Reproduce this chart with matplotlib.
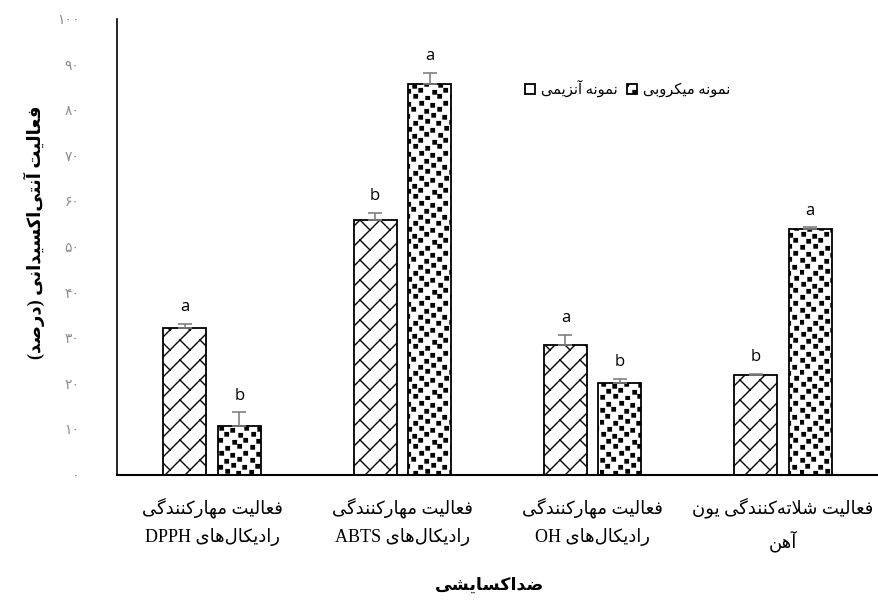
import warnings
import numpy as np
import matplotlib
matplotlib.use('Agg')
import matplotlib.pyplot as plt
import matplotlib.hatch as mhatch
from matplotlib.patches import Patch
from matplotlib.path import Path

warnings.filterwarnings('ignore')

# ---- data -------------------------------------------------------------
categories = [
    'فعالیت مهارکنندگی\nرادیکال‌های DPPH',
    'فعالیت مهارکنندگی\nرادیکال‌های ABTS',
    'فعالیت مهارکنندگی\nرادیکال‌های OH',
    'فعالیت شلاته‌کنندگی یون\nآهن',
]
series_names = ['نمونه آنزیمی', 'نمونه میکروبی']
enzyme = [32.2, 56.0, 28.4, 21.9]
enzyme_err = [1.0, 1.5, 2.4, 0.3]
microbial = [10.7, 85.8, 20.1, 54.0]
microbial_err = [3.1, 2.4, 1.0, 0.3]
enzyme_letters = ['a', 'b', 'a', 'b']
microbial_letters = ['b', 'a', 'b', 'a']
y_ticks = [0, 10, 20, 30, 40, 50, 60, 70, 80, 90, 100]
y_label = 'فعالیت آنتی‌اکسیدانی (درصد)'
x_label = 'ضداکسایشی'


# ---- minimal Persian shaping (matplotlib has no RTL layout) -----------
def _dual(base):
    return (base, base + 1, base + 2, base + 3)


def _right(base):
    return (base, base + 1, None, None)


FORMS = {
    'ا': _right(0xFE8D), 'آ': _right(0xFE81), 'ب': _dual(0xFE8F),
    'پ': _dual(0xFB56), 'ت': _dual(0xFE95), 'ث': _dual(0xFE99),
    'ج': _dual(0xFE9D), 'چ': _dual(0xFB7A), 'ح': _dual(0xFEA1),
    'خ': _dual(0xFEA5), 'د': _right(0xFEA9), 'ذ': _right(0xFEAB),
    'ر': _right(0xFEAD), 'ز': _right(0xFEAF), 'ژ': _right(0xFB8A),
    'س': _dual(0xFEB1), 'ش': _dual(0xFEB5), 'ص': _dual(0xFEB9),
    'ض': _dual(0xFEBD), 'ط': _dual(0xFEC1), 'ظ': _dual(0xFEC5),
    'ع': _dual(0xFEC9), 'غ': _dual(0xFECD), 'ف': _dual(0xFED1),
    'ق': _dual(0xFED5), 'ک': _dual(0xFB8E), 'گ': _dual(0xFB92),
    'ل': _dual(0xFEDD), 'م': _dual(0xFEE1), 'ن': _dual(0xFEE5),
    'ه': _dual(0xFEE9), 'و': _right(0xFEED), 'ی': _dual(0xFBFC),
}
LAM_ALEF = {'ا': (0xFEFB, 0xFEFC), 'آ': (0xFEF5, 0xFEF6)}
MIRROR = {'(': ')', ')': '('}
FA_DIGITS = str.maketrans('0123456789', '۰۱۲۳۴۵۶۷۸۹')


def shape_word(word):
    out = []
    i = 0
    while i < len(word):
        ch = word[i]
        if ch not in FORMS:
            out.append(ch)
            i += 1
            continue
        prev = word[i - 1] if i > 0 else None
        joins_prev = prev in FORMS and FORMS[prev][2] is not None
        nxt = word[i + 1] if i + 1 < len(word) else None
        if ch == 'ل' and nxt in LAM_ALEF:
            iso, fin = LAM_ALEF[nxt]
            out.append(chr(fin if joins_prev else iso))
            i += 2
            continue
        iso, fin, ini, med = FORMS[ch]
        joins_next = ini is not None and nxt in FORMS
        if joins_prev and joins_next:
            code = med
        elif joins_prev:
            code = fin
        elif joins_next:
            code = ini
        else:
            code = iso
        out.append(chr(code))
        i += 1
    return ''.join(out).replace('\u200c', '')


def fa(text):
    lines = []
    for line in text.split('\n'):
        words = []
        for w in line.split(' '):
            if any(c in FORMS for c in w):
                w = ''.join(MIRROR.get(c, c) for c in reversed(shape_word(w)))
            words.append(w)
        lines.append(' '.join(reversed(words)))
    return '\n'.join(lines)


# ---- custom fill patterns ---------------------------------------------
class BrickHatch(mhatch.HatchPatternBase):
    """Diagonal bricks: continuous '/' lines with staggered joints."""

    def __init__(self, hatch, density):
        self.segments = []
        if 'k' in hatch:
            n, step = 5, 0.4
            for k in range(-n, n + 1):
                c0, c1 = k / n, (k + 1) / n
                self.segments.append(((-1, -1 + c0), (2, 2 + c0)))
                b = -1 + (step / 2 if k % 2 else 0.0)
                while b < 3:
                    self.segments.append((((b - c0) / 2, (b + c0) / 2),
                                          ((b - c1) / 2, (b + c1) / 2)))
                    b += step
        self.num_vertices = 2 * len(self.segments)

    def set_vertices_and_codes(self, vertices, codes):
        vertices[:] = np.array(self.segments, dtype=float).reshape(-1, 2)
        codes[0::2] = Path.MOVETO
        codes[1::2] = Path.LINETO


# square corners inside a 50 px tile, loosely staggered
CONFETTI_SPOTS = [
    (1, 1), (14, 2), (26, 0), (38, 2),
    (7, 7), (19, 8), (33, 6), (44, 8),
    (2, 14), (13, 12), (25, 14), (39, 13),
    (8, 19), (20, 20), (31, 18), (45, 20),
    (0, 26), (14, 25), (26, 27), (37, 25),
    (6, 32), (19, 31), (32, 33), (43, 31),
    (1, 38), (12, 39), (25, 37), (38, 39),
    (7, 44), (20, 45), (31, 43), (44, 45),
]


class ConfettiHatch(mhatch.HatchPatternBase):
    """Small filled squares scattered on a staggered grid."""

    def __init__(self, hatch, density):
        self.corners = []
        if 'q' in hatch:
            for i in range(2):
                for j in range(2):
                    for px, py in CONFETTI_SPOTS:
                        self.corners.append((i * 0.5 + px / 100,
                                             j * 0.5 + py / 100))
        self.num_vertices = 5 * len(self.corners)

    def set_vertices_and_codes(self, vertices, codes):
        s = 0.034
        pts = []
        for x, y in self.corners:
            pts += [(x, y), (x + s, y), (x + s, y + s), (x, y + s), (x, y)]
        vertices[:] = np.array(pts, dtype=float)
        codes[:] = [Path.MOVETO, Path.LINETO, Path.LINETO, Path.LINETO,
                    Path.CLOSEPOLY] * len(self.corners)


mhatch._hatch_types.extend([BrickHatch, ConfettiHatch])

# ---- figure -----------------------------------------------------------
plt.rcParams['font.family'] = ['Liberation Serif', 'DejaVu Sans']
plt.rcParams['hatch.linewidth'] = 1.0

fig = plt.figure(figsize=(8.79, 6.08), dpi=100)
ax = fig.add_axes([117 / 879, 1 - 475 / 608, 761 / 879, 456 / 608])

x = np.arange(len(categories))
width = 0.226
offset = 0.143

bars_enz = ax.bar(x - offset, enzyme, width, color='white', edgecolor='black',
                  linewidth=1.3, hatch='k', zorder=2)
bars_mic = ax.bar(x + offset, microbial, width, color='white', edgecolor='black',
                  linewidth=1.3, hatch='q', zorder=2)

for xs, vals, errs, letters in [(x - offset, enzyme, enzyme_err, enzyme_letters),
                                (x + offset, microbial, microbial_err, microbial_letters)]:
    ax.errorbar(xs, vals, yerr=[np.zeros(len(vals)), errs], fmt='none',
                ecolor='#808080', elinewidth=1.2, capsize=5, capthick=1.2, zorder=3)
    for xi, v, e, let in zip(xs, vals, errs, letters):
        ax.annotate(let, (xi, v + e), xytext=(0, 6), textcoords='offset points',
                    ha='center', va='bottom', fontsize=12, family='Open Sans')

ax.set_xlim(-0.5, 3.5)
ax.set_ylim(0, 100)
ax.set_yticks(y_ticks)
ax.set_yticklabels([str(t).translate(FA_DIGITS) for t in y_ticks],
                   color='#8c8c8c', fontsize=10)
ax.set_xticks(x)
ax.set_xticklabels([fa(c) for c in categories], fontsize=13, linespacing=1.7)
ax.tick_params(axis='y', length=0, pad=27)
ax.tick_params(axis='x', length=0, pad=16)

for side in ['top', 'right']:
    ax.spines[side].set_visible(False)
ax.spines['left'].set_linewidth(1.2)
ax.spines['bottom'].set_linewidth(1.5)

ax.set_ylabel(fa(y_label), fontsize=13, fontweight='bold')
ax.yaxis.set_label_coords(-0.095, 0.533)
ax.set_xlabel(fa(x_label), fontsize=12.5, fontweight='bold')
ax.xaxis.set_label_coords(0.49, -0.226)

enz_key = Patch(facecolor='white', edgecolor='black', linewidth=1.3)
ax.legend(handles=[enz_key, bars_mic], labels=[fa(n) for n in series_names],
          ncol=2, loc='center', bbox_to_anchor=(0.671, 0.847), frameon=False,
          handlelength=0.7, handleheight=0.7, handletextpad=0.4,
          columnspacing=0.6, fontsize=10.5)

fig.savefig('out.png', dpi=100)
